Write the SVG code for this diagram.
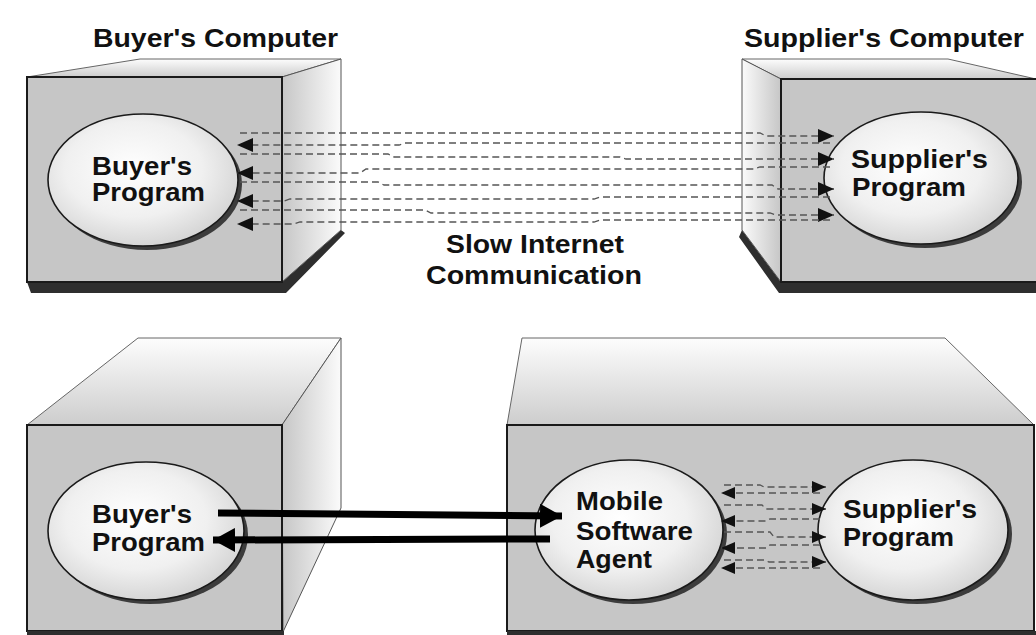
<svg xmlns="http://www.w3.org/2000/svg" width="1036" height="635" viewBox="0 0 1036 635">
  <defs>
    <linearGradient id="gSideR" x1="0" y1="0" x2="1" y2="0">
      <stop offset="0" stop-color="#c6c6c6"/>
      <stop offset="1" stop-color="#fbfbfb"/>
    </linearGradient>
    <linearGradient id="gSideL" x1="0" y1="0" x2="1" y2="0">
      <stop offset="0" stop-color="#fbfbfb"/>
      <stop offset="1" stop-color="#c6c6c6"/>
    </linearGradient>
    <linearGradient id="gTop" x1="0" y1="0" x2="0" y2="1">
      <stop offset="0" stop-color="#fdfdfd"/>
      <stop offset="1" stop-color="#cdcdcd"/>
    </linearGradient>
    <radialGradient id="gEll" cx="0.45" cy="0.42" r="0.6">
      <stop offset="0" stop-color="#ffffff"/>
      <stop offset="0.6" stop-color="#f0f0f0"/>
      <stop offset="1" stop-color="#d4d4d4"/>
    </radialGradient>
    <marker id="aDash" markerUnits="userSpaceOnUse" markerWidth="16" markerHeight="14" refX="16" refY="7" orient="auto" viewBox="0 0 16 14">
      <path d="M0,0 L16,7 L0,14 z" fill="#111"/>
    </marker>
    <marker id="aDashS" markerUnits="userSpaceOnUse" markerWidth="14" markerHeight="12" refX="14" refY="6" orient="auto" viewBox="0 0 14 12">
      <path d="M0,0 L14,6 L0,12 z" fill="#111"/>
    </marker>
    <marker id="aBold" markerUnits="userSpaceOnUse" markerWidth="22" markerHeight="24" refX="22" refY="12" orient="auto" viewBox="0 0 22 24">
      <path d="M0,0 L22,12 L0,24 z" fill="#000"/>
    </marker>
  </defs>
  <style>
    .front { fill: #c6c6c6; stroke: #1a1a1a; stroke-width: 2; }
    .side-r { fill: url(#gSideR); stroke: #555; stroke-width: 1; }
    .side-l { fill: url(#gSideL); stroke: #555; stroke-width: 1; }
    .top { fill: url(#gTop); stroke: #666; stroke-width: 1; }
    .shadow { fill: #2e2e2e; }
    .ell { fill: url(#gEll); stroke: #1a1a1a; stroke-width: 1.6; }
    .ellsh { fill: #3c3c3c; }
    .lbl { font-family: "Liberation Sans", Arial, sans-serif; font-weight: bold; font-size: 25px; fill: #111; }
    .dash { fill: none; stroke: #555; stroke-width: 1.3; stroke-dasharray: 7 4; }
    .bold { fill: none; stroke: #000; stroke-width: 7; }
  </style>

  <!-- Top-left: Buyer's Computer -->
  <g id="buyer-computer-top">
    <polygon class="shadow" points="27,282 282,282 341,230 345,233 286,293 31,293"/>
    <polygon class="top" points="27,77 140,59 341,59 282,77"/>
    <polygon class="side-r" points="282,77 341,59 341,230 282,282"/>
    <rect class="front" x="27" y="77" width="255" height="205"/>
    <text class="lbl" x="93" y="47" textLength="245" lengthAdjust="spacingAndGlyphs">Buyer's Computer</text>
  </g>
  <g id="buyer-program-top">
    <ellipse class="ellsh" cx="147" cy="184" rx="95" ry="66"/>
    <ellipse class="ell" cx="143" cy="180" rx="95" ry="66"/>
    <text class="lbl" x="92" y="175" textLength="100" lengthAdjust="spacingAndGlyphs">Buyer's</text>
    <text class="lbl" x="92" y="201" textLength="113" lengthAdjust="spacingAndGlyphs">Program</text>
  </g>

  <!-- Top-right: Supplier's Computer -->
  <g id="supplier-computer-top">
    <polygon class="shadow" points="742,230 781,282 1036,282 1036,293 779,293 739,237"/>
    <polygon class="top" points="742,59 948,59 1036,79 781,79"/>
    <polygon class="side-l" points="742,59 781,79 781,282 742,230"/>
    <rect class="front" x="781" y="79" width="260" height="203"/>
    <text class="lbl" x="744" y="47" textLength="280" lengthAdjust="spacingAndGlyphs">Supplier's Computer</text>
  </g>
  <g id="supplier-program-top">
    <ellipse class="ellsh" cx="925" cy="182" rx="97" ry="66"/>
    <ellipse class="ell" cx="921" cy="178" rx="97" ry="66"/>
    <text class="lbl" x="851" y="168" textLength="137" lengthAdjust="spacingAndGlyphs">Supplier's</text>
    <text class="lbl" x="852" y="196" textLength="114" lengthAdjust="spacingAndGlyphs">Program</text>
  </g>

  <g id="slow-label">
    <text class="lbl" x="446" y="253" textLength="178" lengthAdjust="spacingAndGlyphs">Slow Internet</text>
    <text class="lbl" x="426" y="284" textLength="216" lengthAdjust="spacingAndGlyphs">Communication</text>
  </g>

  <!-- Bottom-left: Buyer's computer -->
  <g id="buyer-computer-bottom">
    <polygon class="top" points="27,425 138,338 341,338 282,425"/>
    <polygon class="side-r" points="282,425 341,338 341,508 283,632"/>
    <rect class="front" x="27" y="425" width="255" height="206"/>
    <rect class="shadow" x="27" y="631" width="257" height="4"/>
  </g>
  <g id="buyer-program-bottom">
    <ellipse class="ellsh" cx="150" cy="535" rx="98" ry="69"/>
    <ellipse class="ell" cx="146" cy="531" rx="98" ry="69"/>
    <text class="lbl" x="92" y="523" textLength="100" lengthAdjust="spacingAndGlyphs">Buyer's</text>
    <text class="lbl" x="92" y="551" textLength="113" lengthAdjust="spacingAndGlyphs">Program</text>
  </g>

  <!-- Bottom-right: Supplier's computer -->
  <g id="supplier-computer-bottom">
    <polygon class="top" points="507,425 522,338 945,338 1034,425"/>
    <rect class="front" x="507" y="425" width="527" height="206"/>
    <rect class="shadow" x="507" y="631" width="529" height="4"/>
  </g>
  <g id="mobile-agent">
    <ellipse class="ellsh" cx="633" cy="534" rx="94" ry="70"/>
    <ellipse class="ell" cx="629" cy="530" rx="94" ry="70"/>
    <text class="lbl" x="576" y="510" textLength="87" lengthAdjust="spacingAndGlyphs">Mobile</text>
    <text class="lbl" x="576" y="540" textLength="117" lengthAdjust="spacingAndGlyphs">Software</text>
    <text class="lbl" x="576" y="568" textLength="76" lengthAdjust="spacingAndGlyphs">Agent</text>
  </g>
  <g id="supplier-program-bottom">
    <ellipse class="ellsh" cx="917" cy="534" rx="95" ry="70"/>
    <ellipse class="ell" cx="913" cy="530" rx="95" ry="70"/>
    <text class="lbl" x="843" y="518" textLength="134" lengthAdjust="spacingAndGlyphs">Supplier's</text>
    <text class="lbl" x="843" y="546" textLength="111" lengthAdjust="spacingAndGlyphs">Program</text>
  </g>

  <!-- Connectors -->
  <g id="connectors">
    <!-- top: slow internet communication -->
    <path class="dash" marker-end="url(#aDash)" d="M240,133 H760 L766,136 H834"/>
    <path class="dash" marker-end="url(#aDash)" d="M830,143 H405 L399,145 H237"/>
    <path class="dash" marker-end="url(#aDash)" d="M240,154 H388 L394,157 H620 L626,159 H834"/>
    <path class="dash" marker-end="url(#aDash)" d="M830,167 H760 L754,169 H366 L360,173 H237"/>
    <path class="dash" marker-end="url(#aDash)" d="M240,182 H378 L384,185 H772 L778,189 H834"/>
    <path class="dash" marker-end="url(#aDash)" d="M830,197 H600 L594,199 H290 L284,201 H237"/>
    <path class="dash" marker-end="url(#aDash)" d="M240,210 H425 L431,213 H770 L776,215 H834"/>
    <path class="dash" marker-end="url(#aDash)" d="M830,220 H600 L594,222 H300 L294,224 H237"/>

    <!-- bottom: buyer <-> mobile agent -->
    <path class="bold" marker-end="url(#aBold)" d="M218,513 L562,516"/>
    <path class="bold" marker-end="url(#aBold)" d="M550,539 L213,540"/>

    <!-- bottom: agent <-> supplier (local) -->
    <path class="dash" marker-end="url(#aDashS)" d="M724,485 H760 L764,487 H826"/>
    <path class="dash" marker-end="url(#aDashS)" d="M820,493 H721"/>
    <path class="dash" marker-end="url(#aDashS)" d="M724,505 H762 L766,509 H826"/>
    <path class="dash" marker-end="url(#aDashS)" d="M820,519 H770 L766,521 H721"/>
    <path class="dash" marker-end="url(#aDashS)" d="M724,532 H770 L774,537 H826"/>
    <path class="dash" marker-end="url(#aDashS)" d="M820,545 H770 L766,548 H721"/>
    <path class="dash" marker-end="url(#aDashS)" d="M724,560 H765 L769,562 H826"/>
    <path class="dash" marker-end="url(#aDashS)" d="M820,568 H721"/>
  </g>
</svg>
